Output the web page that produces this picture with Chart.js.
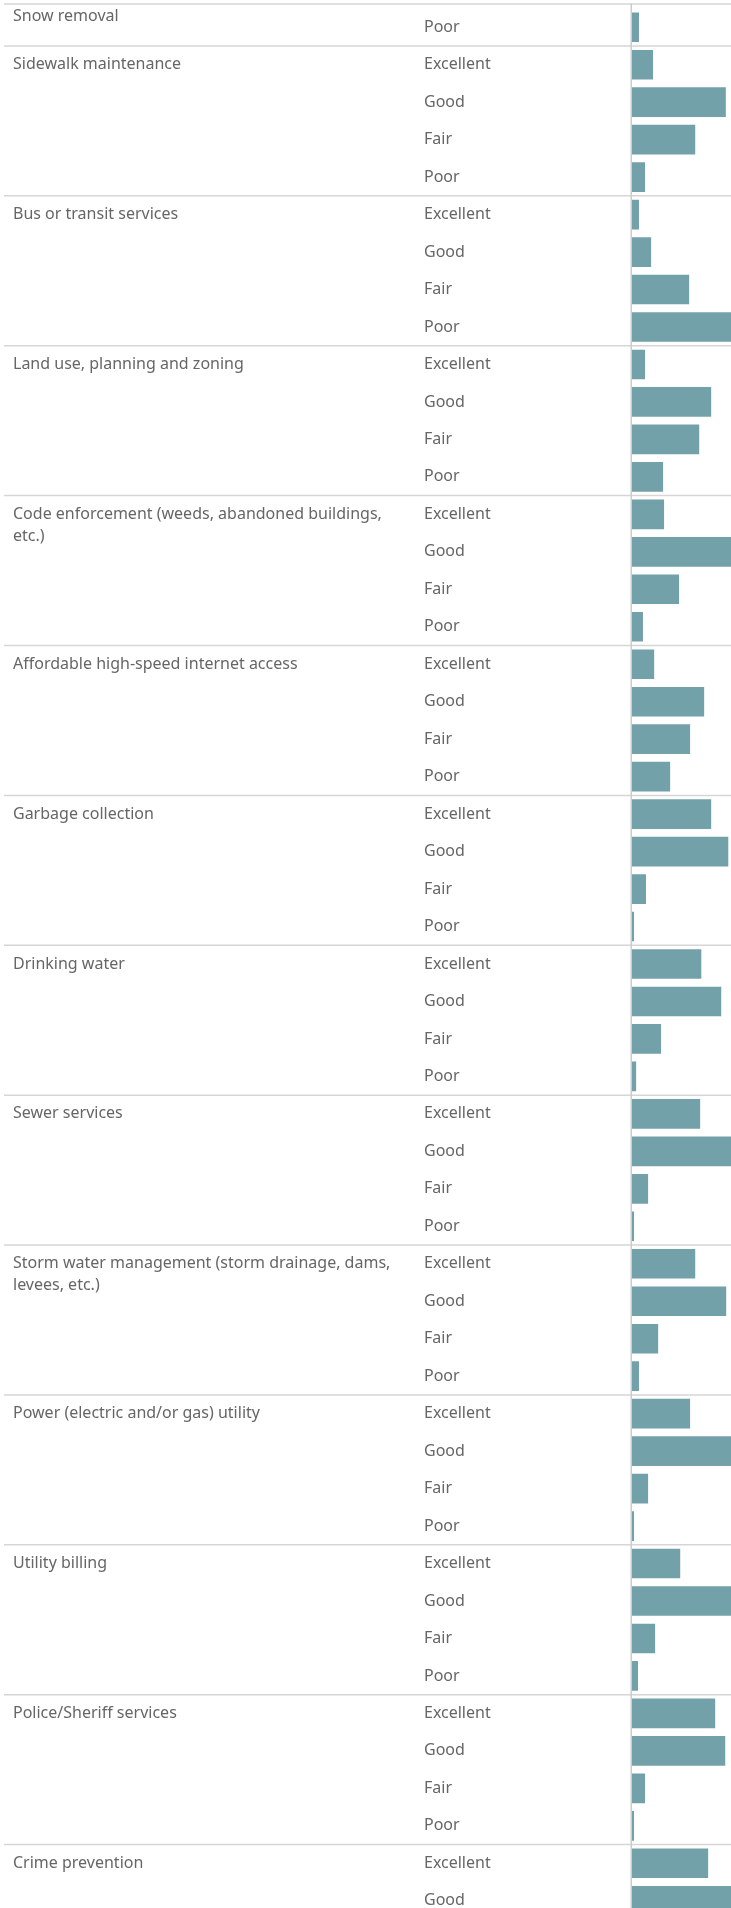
<!DOCTYPE html>
<html>
<head>
<meta charset="utf-8">
<script src="https://cdn.jsdelivr.net/npm/chart.js"></script>
<style>
  html, body { margin: 0; padding: 0; background: #fff; overflow: hidden; }
  .wrap { position: relative; width: 731px; height: 1926px; }
</style>
</head>
<body>
<div class="wrap"><canvas id="chart"></canvas></div>
<script>
const services = [
  ["Snow removal"],
  ["Sidewalk maintenance"],
  ["Bus or transit services"],
  ["Land use, planning and zoning"],
  ["Code enforcement (weeds, abandoned buildings,", "etc.)"],
  ["Affordable high-speed internet access"],
  ["Garbage collection"],
  ["Drinking water"],
  ["Sewer services"],
  ["Storm water management (storm drainage, dams,", "levees, etc.)"],
  ["Power (electric and/or gas) utility"],
  ["Utility billing"],
  ["Police/Sheriff services"],
  ["Crime prevention"]
];
const ratings = ["Excellent", "Good", "Fair", "Poor"];
// % of responses per rating; null = row scrolled out of view
const excellent = [null, 10.9, 3.5, 6.7, 16.7, 11.5, 41.5, 36.3, 35.7, 33.1, 30.4, 25.2, 43.6, 39.9];
const good = [null, 49.2, 9.9, 41.5, 53.1, 37.8, 50.5, 46.8, 55.1, 49.4, 60.4, 59.8, 48.9, 55.0];
const fair = [null, 33.1, 29.9, 35.2, 24.6, 30.4, 7.2, 15.1, 8.3, 13.6, 8.3, 12.0, 6.7, null];
const poor = [3.5, 6.7, 56.7, 16.2, 5.6, 19.9, 0.9, 2.0, 0.9, 3.5, 0.9, 3.0, 0.9, null];

const series = [excellent, good, fair, poor];
const rowRating = [];
const rowGroup = [];
const rowValue = [];
const groupStart = [];
services.forEach((lines, s) => {
  let first = true;
  series.forEach((vals, r) => {
    if (vals[s] == null) return;
    if (first) {
      groupStart.push(rowRating.length);
      // header sits at top of the group; cut-off group keeps it at top of the view
      if (r > 0) rowGroup.push(lines.concat([""]));
      else if (lines.length > 1) rowGroup.push([""].concat(lines));
      else rowGroup.push(lines[0]);
      first = false;
    } else {
      rowGroup.push("");
    }
    rowRating.push(ratings[r]);
    rowValue.push(vals[s]);
  });
});

const textColor = "#666666";
const font = { family: "'Noto Sans', sans-serif", size: 16, lineHeight: "22px" };

const separators = {
  id: "separators",
  beforeDatasetsDraw(chart) {
    const { ctx, chartArea, scales: { y } } = chart;
    const half = (y.getPixelForValue(1) - y.getPixelForValue(0)) / 2;
    ctx.save();
    ctx.strokeStyle = "#d6d6d6";
    ctx.lineWidth = 1.5;
    ctx.beginPath();
    ctx.moveTo(4, chartArea.top - 4.5);
    ctx.lineTo(chart.width, chartArea.top - 4.5);
    groupStart.slice(1).forEach((i) => {
      const py = y.getPixelForValue(i) - half;
      ctx.moveTo(4, py);
      ctx.lineTo(chart.width, py);
    });
    ctx.stroke();
    ctx.restore();
  },
  afterDatasetsDraw(chart) {
    const { ctx, chartArea } = chart;
    ctx.save();
    ctx.strokeStyle = "#cccccc";
    ctx.lineWidth = 1.5;
    ctx.beginPath();
    ctx.moveTo(chartArea.left - 0.75, chartArea.top - 5);
    ctx.lineTo(chartArea.left - 0.75, chart.height);
    ctx.stroke();
    ctx.restore();
  }
};

// keep tall multi-line labels from eating into the plot height
const fitAxis = (w) => (scale) => {
  scale.width = w;
  scale.paddingTop = 0;
  scale.paddingBottom = 0;
};

new Chart(document.getElementById("chart"), {
  type: "bar",
  data: {
    labels: rowRating,
    datasets: [
      {
        data: rowValue,
        backgroundColor: "#73a1a9",
        barThickness: 29,
        yAxisID: "y",
      },
    ],
  },
  options: {
    indexAxis: "y",
    responsive: true,
    maintainAspectRatio: false,
    animation: false,
    layout: { padding: { left: 13, right: 0, top: 8.5, bottom: 6.5 } },
    plugins: { legend: { display: false }, tooltip: { enabled: false } },
    scales: {
      x: { display: false, min: 0, max: 52.1 },
      y: {
        type: "category",
        position: "left",
        weight: 0,
        grid: { display: false, drawTicks: false },
        border: { display: false },
        ticks: { autoSkip: false, crossAlign: "far", color: textColor, font, padding: 0 },
        afterFit: fitAxis(208),
      },
      y2: {
        type: "category",
        position: "left",
        weight: 1,
        labels: rowGroup,
        offset: true,
        grid: { display: false, drawTicks: false },
        border: { display: false },
        ticks: { autoSkip: false, crossAlign: "far", color: textColor, font, padding: 0 },
        afterFit: fitAxis(411),
      },
    },
  },
  plugins: [separators],
});
</script>
</body>
</html>
